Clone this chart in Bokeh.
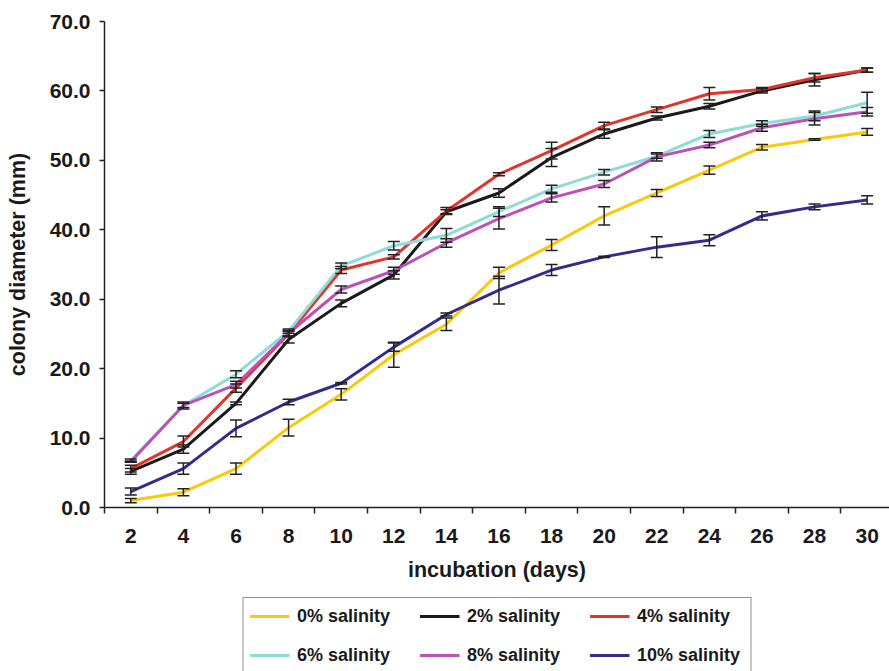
from bokeh.plotting import figure
from bokeh.layouts import column
from bokeh.models import (Range1d, FixedTicker, PrintfTickFormatter, Whisker, TeeHead,
                          ColumnDataSource, Legend, LegendItem)
from bokeh.embed import file_html
from bokeh.resources import INLINE

days = [2, 4, 6, 8, 10, 12, 14, 16, 18, 20, 22, 24, 26, 28, 30]
x_tick_labels = [str(d) for d in days]
y_ticks = [0, 10, 20, 30, 40, 50, 60, 70]

series_names = ["0% salinity", "2% salinity", "4% salinity",
                "6% salinity", "8% salinity", "10% salinity"]

sal0 = [1.0, 2.2, 5.6, 11.5, 16.3, 22.0, 26.4, 33.8, 37.8, 42.0, 45.3, 48.6, 51.9, 53.0, 54.1]
sal2 = [5.2, 8.4, 15.0, 24.2, 29.4, 33.5, 42.6, 45.3, 50.4, 53.8, 56.1, 57.8, 60.0, 61.6, 63.0]
sal4 = [5.6, 9.5, 17.2, 25.0, 34.2, 36.1, 42.7, 48.0, 51.4, 55.0, 57.3, 59.6, 60.2, 61.9, 63.0]
sal6 = [6.8, 14.7, 19.2, 25.4, 34.8, 37.7, 39.2, 42.6, 45.9, 48.3, 50.6, 53.8, 55.3, 56.4, 58.3]
sal8 = [6.6, 14.7, 17.7, 25.1, 31.4, 34.1, 38.1, 41.6, 44.6, 46.6, 50.5, 52.2, 54.7, 56.0, 57.0]
sal10 = [2.3, 5.6, 11.4, 15.2, 17.9, 23.1, 27.8, 31.3, 34.2, 36.1, 37.5, 38.5, 42.0, 43.3, 44.3]

err0 = [0.3, 0.5, 0.8, 1.2, 0.8, 1.8, 0.9, 0.8, 0.8, 1.3, 0.5, 0.6, 0.4, 0.1, 0.5]
err2 = [0.4, 0.6, 0.2, 0.5, 0.5, 0.6, 0.3, 0.6, 1.3, 0.6, 0.3, 0.4, 0.3, 0.9, 0.3]
err4 = [0.5, 0.8, 0.6, 0.4, 0.5, 0.3, 0.5, 0.2, 1.2, 0.5, 0.4, 0.9, 0.3, 0.6, 0.3]
err6 = [0.2, 0.3, 0.5, 0.3, 0.4, 0.6, 1.0, 0.7, 0.5, 0.4, 0.3, 0.5, 0.4, 0.7, 1.5]
err8 = [0.1, 0.5, 0.5, 0.4, 0.5, 0.5, 0.6, 1.5, 0.6, 0.5, 0.6, 0.4, 0.5, 0.9, 0.6]
err10 = [0.5, 0.8, 1.2, 0.4, 0.1, 0.6, 0.2, 2.0, 0.8, 0.1, 1.5, 0.8, 0.6, 0.4, 0.6]

colors = ["#FBC80A", "#1A1A1A", "#E3342C", "#8EDCD5", "#BA52BA", "#352B8C"]

values = [sal0, sal2, sal4, sal6, sal8, sal10]
errors = [err0, err2, err4, err6, err8, err10]

FONT = "Liberation Sans"

p = figure(width=889, height=590, output_backend="svg", toolbar_location=None,
           x_range=Range1d(1, 30.85), y_range=Range1d(0, 70),
           min_border_left=104, min_border_top=21, min_border_right=0, min_border_bottom=83)
p.outline_line_color = None
p.xgrid.visible = False
p.ygrid.visible = False
p.background_fill_color = "white"
p.border_fill_color = "white"

# x axis: labels at day centres, tick marks at category boundaries
p.xaxis.ticker = FixedTicker(ticks=days, minor_ticks=[d - 1 for d in days] + [31])
p.xaxis.major_label_overrides = {d: lab for d, lab in zip(days, x_tick_labels)}
p.xaxis.major_tick_out = 0
p.xaxis.major_tick_in = 0
p.xaxis.minor_tick_out = 6
p.xaxis.minor_tick_in = 0
p.xaxis.minor_tick_line_color = "#222222"
p.xaxis.minor_tick_line_width = 1.5
p.xaxis.major_label_standoff = 15
p.xaxis.axis_label = "incubation (days)"
p.xaxis.axis_label_standoff = 12

p.yaxis.ticker = FixedTicker(ticks=y_ticks, minor_ticks=[])
p.yaxis.formatter = PrintfTickFormatter(format="%.1f")
p.yaxis.major_tick_out = 5
p.yaxis.major_tick_in = 0
p.yaxis.major_label_standoff = 9
p.yaxis.axis_label = "colony diameter (mm)"
p.yaxis.axis_label_standoff = 17

for ax in (p.xaxis, p.yaxis):
    ax.axis_line_color = "#222222"
    ax.axis_line_width = 1.5
    ax.major_tick_line_color = "#222222"
    ax.major_tick_line_width = 1.5
    ax.major_label_text_font = FONT
    ax.major_label_text_font_style = "bold"
    ax.major_label_text_font_size = "21px"
    ax.major_label_text_color = "#1A1A1A"
    ax.axis_label_text_font = FONT
    ax.axis_label_text_font_style = "bold"
    ax.axis_label_text_font_size = "21.5px"
    ax.axis_label_text_color = "#1A1A1A"

for name, col, vals, errs in zip(series_names, colors, values, errors):
    src = ColumnDataSource(dict(x=days, y=vals,
                                upper=[v + e for v, e in zip(vals, errs)],
                                lower=[v - e for v, e in zip(vals, errs)]))
    p.line("x", "y", source=src, line_color=col, line_width=3)
    p.add_layout(Whisker(source=src, base="x", upper="upper", lower="lower", dimension="height",
                         line_color="#222222", line_width=1.5, level="overlay",
                         upper_head=TeeHead(size=12, line_color="#222222", line_width=1.5),
                         lower_head=TeeHead(size=12, line_color="#222222", line_width=1.5)))

# legend panel below the chart (its series lines lie outside its view, only the legend shows)
lg = figure(width=889, height=81, output_backend="svg", toolbar_location=None,
            x_axis_type=None, y_axis_type=None,
            x_range=Range1d(100, 101), y_range=Range1d(100, 101),
            min_border_left=88, min_border_right=0, min_border_top=0, min_border_bottom=0)
lg.outline_line_color = None
lg.xgrid.visible = False
lg.ygrid.visible = False

items = []
for name, col, vals in zip(series_names, colors, values):
    r = lg.line(x=days, y=vals, line_color=col, line_width=3)
    items.append(LegendItem(label=name, renderers=[r]))

legend = Legend(items=items, orientation="horizontal", ncols=3,
                location="top_center", margin=7, padding=6, spacing=15,
                glyph_width=40, glyph_height=24, label_standoff=8,
                label_width=107, label_height=24,
                label_text_font=FONT, label_text_font_style="bold",
                label_text_font_size="18px", label_text_color="#1A1A1A",
                border_line_color="#222222", border_line_width=1.5,
                background_fill_color="white")
lg.add_layout(legend)

layout = column(p, lg, spacing=0)
open("out.html", "w").write(file_html(layout, INLINE))
